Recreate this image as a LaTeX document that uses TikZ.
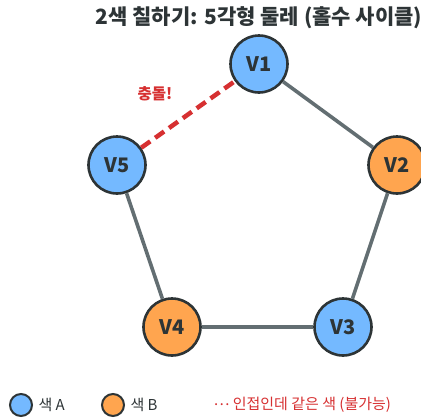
\documentclass[tikz,border=0pt]{standalone}
\usepackage{fontspec}
\setmainfont{Noto Sans CJK KR}
\usetikzlibrary{positioning}
\definecolor{colA}{HTML}{74B9FF}
\definecolor{colB}{HTML}{FFA54F}
\definecolor{ink}{HTML}{2D3436}
\definecolor{edgegray}{HTML}{636E72}
\definecolor{clash}{HTML}{D63031}

\begin{document}
\begin{tikzpicture}[
    x=1pt, y=-1pt,
    vert/.style={circle, draw=ink, line width=2.6pt, minimum size=57pt, inner sep=0pt,
                 font=\fontsize{20}{20}\selectfont\bfseries, text=ink},
    link/.style={draw=edgegray, line width=3.6pt},
    badlink/.style={draw=clash, line width=4.5pt, dash pattern=on 11pt off 6pt},
    legdot/.style={circle, draw=ink, line width=2pt, minimum size=22pt, inner sep=0pt}
]
\useasboundingbox (0,0) rectangle (421,418);

\node[font=\fontsize{21}{21}\selectfont\bfseries, text=ink] (title) at (259,18) {2색 칠하기: 5각형 둘레 (홀수 사이클)};

\node[vert, fill=colA] (v1) at (259,64) {V1};
\node[vert, fill=colB] (v2) at (397,165) {V2};
\node[vert, fill=colA] (v3) at (343,327) {V3};
\node[vert, fill=colB] (v4) at (172,327) {V4};
\node[vert, fill=colA] (v5) at (117,165) {V5};

\draw[link] (v1) -- (v2);
\draw[link] (v2) -- (v3);
\draw[link] (v3) -- (v4);
\draw[link] (v4) -- (v5);
\draw[badlink] (v5) -- (v1);

\node[font=\fontsize{15.5}{15.5}\selectfont\bfseries, text=clash] (clashlbl) at (155,94) {충돌!};

% legend
\node[legdot, fill=colA] (legA) at (21,405) {};
\node[right=2pt of legA, font=\fontsize{15}{15}\selectfont, text=ink] (legAtxt) {색 A};
\node[legdot, fill=colB] (legB) at (113,405) {};
\node[right=2pt of legB, font=\fontsize{15}{15}\selectfont, text=ink] (legBtxt) {색 B};
\node[anchor=west, font=\fontsize{15}{15}\selectfont, text=clash] (legbad) at (210,405) {\raisebox{0.3em}{…} 인접인데 같은 색 (불가능)};

\end{tikzpicture}
\end{document}
